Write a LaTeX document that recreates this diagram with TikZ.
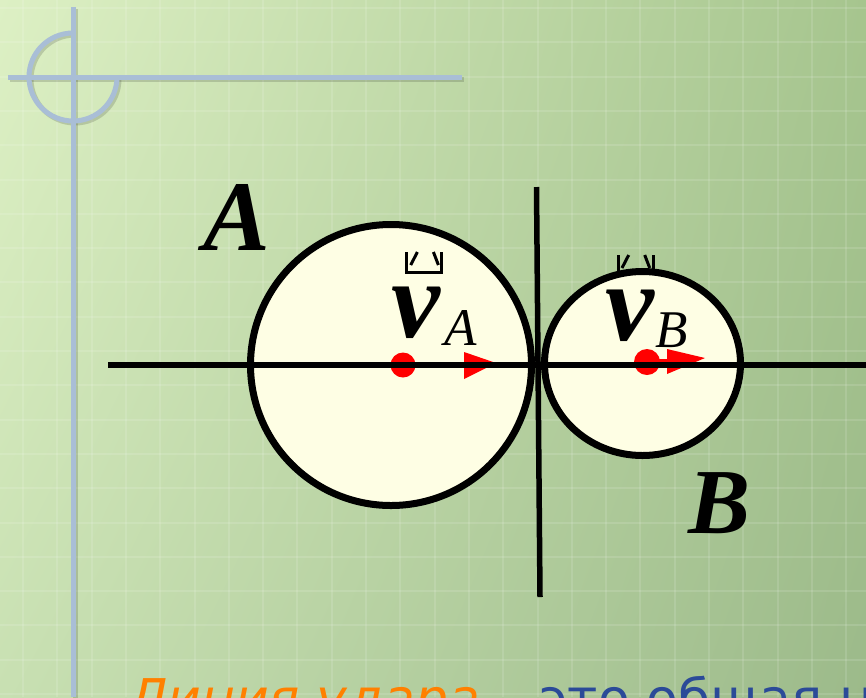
\documentclass[tikz,border=0pt]{standalone}
\usepackage{fontspec}
\setmainfont{Liberation Serif}
\newfontfamily\djv{DejaVu Sans}
\usetikzlibrary{shadings}
\definecolor{bgUL}{HTML}{DDF0C4}
\definecolor{bgUR}{HTML}{A6C58E}
\definecolor{bgLL}{HTML}{C8E0B2}
\definecolor{bgLR}{HTML}{9CBA8A}
\definecolor{decoC}{HTML}{A9BED6}
\definecolor{creamC}{HTML}{FEFEE4}
\definecolor{orangeC}{HTML}{FF8000}
\definecolor{blueC}{HTML}{2B4A98}
\definecolor{redC}{HTML}{FF0000}
\begin{document}
\begin{tikzpicture}[x=1pt,y=-1pt,
  gridline/.style={draw=white, opacity=0.12, line width=2pt},
  deco/.style={draw=decoC, line width=5pt},
  decoshadow/.style={draw=black, opacity=0.15, line width=5pt},
  ball/.style={draw=black, line width=7pt, fill=creamC},
  axisline/.style={draw=black, line width=5.5pt},
  redarrow/.style={draw=redC, line width=6pt},
  glyphline/.style={draw=black, line width=3pt},
  bigletter/.style={inner sep=0pt, anchor=base west, font=\fontsize{100}{100}\selectfont\bfseries\itshape},
  vletter/.style={inner sep=0pt, anchor=base west, font=\fontsize{110}{110}\selectfont\bfseries\itshape},
  subletter/.style={inner sep=0pt, anchor=base west, font=\fontsize{53}{53}\selectfont\itshape},
  vecglyph/.pic={
    \draw[glyphline] (0,0) -- (0,20) -- (35,20) -- (35,0);
    \draw[glyphline] (10.7,0) -- (4,13);
    \draw[glyphline] (26.7,0) -- (31.7,13);
  }]
\useasboundingbox (0,0) rectangle (866,697);
\clip (0,0) rectangle (866,697);
% background
\shade[upper left=bgUL, upper right=bgUR, lower left=bgLL, lower right=bgLR] (0,0) rectangle (866,697);
\foreach \i in {0,...,25} {
  \draw[gridline] ({23+34.3*\i},0) -- ({23+34.3*\i},697);
}
\foreach \i in {0,...,20} {
  \draw[gridline] (0,{8+34.3*\i}) -- (866,{8+34.3*\i});
}
% corner decoration
\begin{scope}[shift={(2,2)}]
  \draw[decoshadow] (73,7) -- (73,697);
  \draw[decoshadow] (8,77) -- (462,77);
  \draw[decoshadow] (73,33) arc[start angle=270, end angle=0, radius=44];
\end{scope}
\draw[deco] (73,7) -- (73,697);
\draw[deco] (8,77) -- (462,77);
\draw[deco] (73,33) arc[start angle=270, end angle=0, radius=44];
% balls
\draw[ball] (391,365) circle[radius=140.5];
\pic at (406.7,252) {vecglyph};
\pic at (618,255) {vecglyph};
\draw[ball] (642.5,363.5) ellipse[x radius=98, y radius=92];
% velocity markers
\fill[redC] (403,365) circle[radius=12.5];
\draw[redarrow] (403,365) -- (466,365);
\fill[redC] (464,352) -- (496,363) -- (464,379) -- cycle;
\fill[redC] (647,362) circle[radius=13];
\draw[redarrow] (647,362) -- (669,362);
\fill[redC] (667,349) -- (705,358) -- (667,374) -- cycle;
% line of impact and tangent
\draw[axisline] (108,365) -- (866,365);
\draw[axisline] (536.5,187) -- (540,597);
% labels
\node[bigletter] (labA) at (203,250) {A};
\node[bigletter, font=\fontsize{93}{93}\selectfont\bfseries\itshape] (labB) at (688,533) {B};
\node[vletter] (vA) at (391,337) {v};
\node[subletter] (subA) at (444,345) {A};
\node[vletter] (vB) at (605,340) {v};
\node[subletter] (subB) at (655,347) {B};
\node[inner sep=0pt, anchor=base west, font=\djv\itshape\fontsize{52}{52}\selectfont] (caption) at (128,716)
  {\textcolor{orangeC}{Линия удара}\textcolor{blueC}{\upshape{} – это общая но}};
\end{tikzpicture}
\end{document}
